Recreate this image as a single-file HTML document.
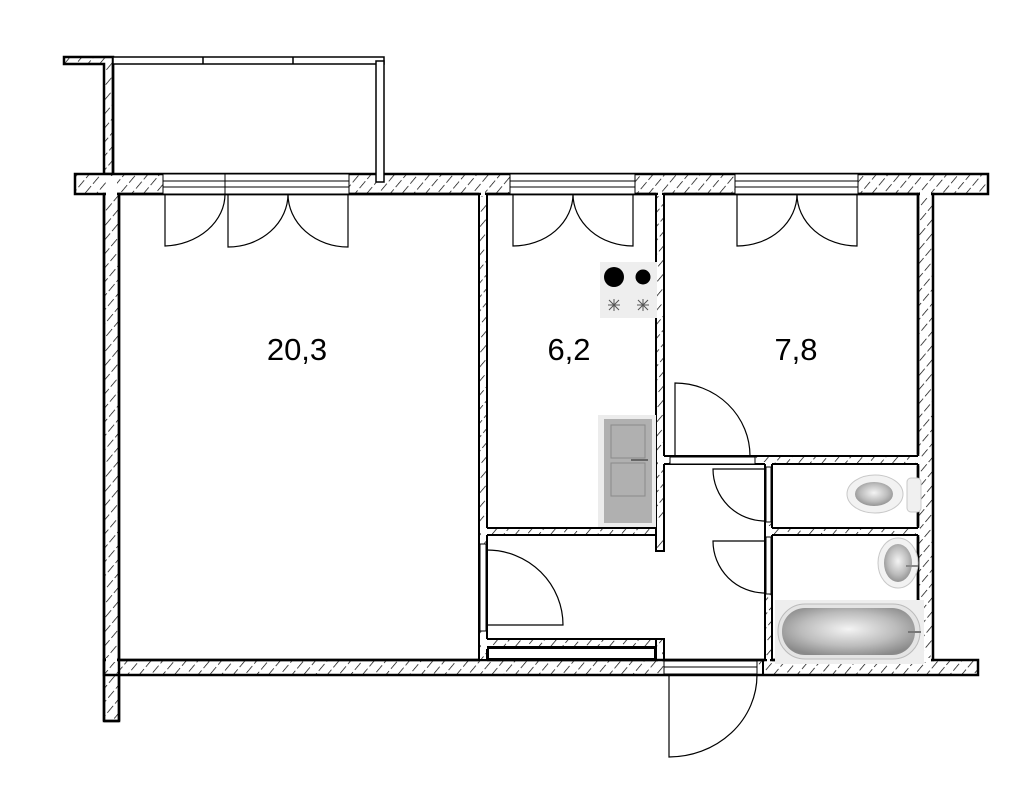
<!DOCTYPE html>
<html><head><meta charset="utf-8"><style>
html,body{margin:0;padding:0;background:#fff;}
svg{display:block;}
text{font-family:"Liberation Sans",sans-serif;}
</style></head><body>
<svg width="1025" height="794" viewBox="0 0 1025 794" xmlns="http://www.w3.org/2000/svg">
<defs>
<pattern id="h" patternUnits="userSpaceOnUse" width="9" height="12" patternTransform="rotate(40)">
<rect width="9" height="12" fill="#fff"/>
<line x1="0" y1="0" x2="0" y2="9" stroke="#000" stroke-width="1.4"/>
</pattern>
<radialGradient id="g" cx="50%" cy="45%" r="60%">
<stop offset="0" stop-color="#f4f4f4"/><stop offset="0.6" stop-color="#bcbcbc"/><stop offset="1" stop-color="#8a8a8a"/>
</radialGradient>
</defs>
<g stroke="#000" stroke-width="2.5" fill="url(#h)">
<polygon points="64,57 113,57 113,174 104,174 104,64 64,64"/>
<rect x="75" y="174" width="913" height="20"/>
<rect x="104" y="194" width="15" height="527"/>
<rect x="104" y="660" width="874" height="15"/>
<rect x="918" y="194" width="15" height="466"/>
</g>
<g stroke="#000" stroke-width="2" fill="url(#h)">
<rect x="479" y="194" width="8" height="466"/>
<rect x="487" y="528" width="177" height="7"/>
<rect x="656" y="194" width="8" height="357"/>
<rect x="664" y="456" width="254" height="8"/>
<rect x="765" y="464" width="7" height="196"/>
<rect x="772" y="528" width="146" height="7"/>
<rect x="487" y="639" width="177" height="8"/>
<rect x="656" y="639" width="8" height="21"/>
</g>
<g fill="#fff" stroke="none">
<rect x="106" y="176" width="11" height="20"/>
<rect x="920" y="192" width="11" height="4"/>
<rect x="106" y="658" width="11" height="4"/>
<rect x="920" y="658" width="11" height="4"/>
<rect x="481" y="192" width="4" height="4"/>
<rect x="658" y="192" width="4" height="4"/>
<rect x="481" y="526" width="7" height="11"/>
<rect x="655" y="526" width="11" height="11"/>
<rect x="658" y="454" width="8" height="12"/>
<rect x="916" y="454" width="4" height="12"/>
<rect x="763" y="462" width="11" height="4"/>
<rect x="763" y="526" width="11" height="11"/>
<rect x="916" y="526" width="4" height="11"/>
<rect x="481" y="637" width="7" height="12"/>
<rect x="658" y="645" width="4" height="17"/>
<rect x="767" y="658" width="3" height="4"/>
</g>
<g stroke="#000" stroke-width="2.5" fill="none">
<polyline points="119,721 119,194 479,194"/>
<line x1="487" y1="194" x2="656" y2="194"/>
<line x1="664" y1="194" x2="918" y2="194"/>
<line x1="104" y1="194" x2="104" y2="721"/>
<line x1="119" y1="660" x2="479" y2="660"/>
<line x1="487" y1="660" x2="765" y2="660"/>
<line x1="772" y1="660" x2="918" y2="660"/>
<line x1="918" y1="194" x2="918" y2="456"/>
<line x1="918" y1="464" x2="918" y2="528"/>
<line x1="918" y1="535" x2="918" y2="660"/>
<line x1="104" y1="721" x2="119" y2="721"/>
</g>
<g stroke="#000" stroke-width="2" fill="none">
<line x1="479" y1="194" x2="479" y2="660"/>
<line x1="487" y1="194" x2="487" y2="528"/>
<line x1="487" y1="535" x2="487" y2="639"/>
<line x1="487" y1="528" x2="656" y2="528"/>
<line x1="487" y1="535" x2="656" y2="535"/>
<polyline points="656,194 656,551 664,551 664,464"/>
<line x1="664" y1="194" x2="664" y2="456"/>
<line x1="664" y1="456" x2="918" y2="456"/>
<line x1="664" y1="464" x2="765" y2="464"/>
<line x1="772" y1="464" x2="918" y2="464"/>
<line x1="765" y1="464" x2="765" y2="660"/>
<line x1="772" y1="464" x2="772" y2="528"/>
<line x1="772" y1="535" x2="772" y2="660"/>
<line x1="772" y1="528" x2="918" y2="528"/>
<line x1="772" y1="535" x2="918" y2="535"/>
<line x1="487" y1="639" x2="664" y2="639"/>
<line x1="487" y1="647" x2="656" y2="647"/>
<polyline points="656,647 656,660 664,660 664,639"/>
</g>
<rect x="488" y="648" width="167" height="11" fill="#fff" stroke="#000" stroke-width="2"/>
<g stroke="#000" stroke-width="1.5" fill="#fff">
<rect x="113" y="57" width="271" height="7"/>
<line x1="203" y1="57" x2="203" y2="64"/>
<line x1="293" y1="57" x2="293" y2="64"/>
<rect x="376" y="61" width="8" height="121"/>
</g>
<line x1="113" y1="64" x2="113" y2="174" stroke="#000" stroke-width="2.5"/>
<line x1="113" y1="174" x2="376" y2="174" stroke="#000" stroke-width="2"/>
<g stroke="#000" stroke-width="1" fill="#fff">
<rect x="163" y="174" width="186" height="20"/>
<line x1="163" y1="181" x2="349" y2="181"/><line x1="163" y1="187" x2="349" y2="187"/>
<line x1="225" y1="174" x2="225" y2="194"/>
<rect x="510" y="174" width="125" height="20"/>
<line x1="510" y1="181" x2="635" y2="181"/><line x1="510" y1="187" x2="635" y2="187"/>
<rect x="735" y="174" width="123" height="20"/>
<line x1="735" y1="181" x2="858" y2="181"/><line x1="735" y1="187" x2="858" y2="187"/>
<rect x="670" y="457" width="85" height="7"/>
<rect x="766" y="467" width="5" height="55"/>
<rect x="766" y="537" width="5" height="57"/>
<rect x="480" y="544" width="6" height="87"/>
<rect x="664" y="661" width="93" height="13"/>
<line x1="664" y1="667" x2="757" y2="667"/>
</g>
<line x1="763" y1="660" x2="763" y2="675" stroke="#000" stroke-width="2"/>
<g stroke="#000" stroke-width="1.2" fill="none">
<path d="M165,194 V246 A63,52 0 0 0 225,194"/>
<path d="M228,194 V247 A60,53 0 0 0 288,194"/>
<path d="M288,194 A60,53 0 0 0 348,247 V194"/>
<path d="M513,194 V246 A60,52 0 0 0 573,194"/>
<path d="M573,194 A60,52 0 0 0 633,246 V194"/>
<path d="M737,194 V246 A60,52 0 0 0 797,194"/>
<path d="M797,194 A60,52 0 0 0 857,246 V194"/>
<path d="M675,456 V383 A75,73 0 0 1 750,456"/>
<path d="M765,521 A52,52 0 0 1 713,469 H765"/>
<path d="M765,593 A52,52 0 0 1 713,541 H765"/>
<path d="M487,550 A76,75 0 0 1 563,625 H487"/>
<path d="M669,675 V757 A88,82 0 0 0 757,675"/>
</g>
<rect x="600" y="262" width="57" height="56" fill="#eeeeee"/>
<circle cx="614" cy="277" r="10" fill="#000"/>
<circle cx="643" cy="277" r="7.5" fill="#000"/>
<g stroke="#555" stroke-width="1">
<path d="M608,305 h12 M614,299 v12 M609,300 l10,10 M619,300 l-10,10"/>
<path d="M637,305 h12 M643,299 v12 M638,300 l10,10 M648,300 l-10,10"/>
</g>
<rect x="598" y="415" width="58" height="112" fill="#ececec"/>
<rect x="604" y="419" width="48" height="104" fill="#b0b0b0"/>
<rect x="611" y="425" width="34" height="33" fill="none" stroke="#8a8a8a"/>
<rect x="611" y="463" width="34" height="33" fill="none" stroke="#8a8a8a"/>
<line x1="631" y1="460" x2="648" y2="460" stroke="#666" stroke-width="2"/>
<ellipse cx="875" cy="494" rx="28" ry="19" fill="#f2f2f2" stroke="#c8c8c8"/>
<ellipse cx="874" cy="494" rx="19" ry="12" fill="url(#g)"/>
<rect x="907" y="478" width="14" height="34" rx="4" fill="#f0f0f0" stroke="#c8c8c8"/>
<ellipse cx="898" cy="563" rx="20" ry="25" fill="#f2f2f2" stroke="#c8c8c8"/>
<ellipse cx="898" cy="563" rx="14" ry="19" fill="url(#g)"/>
<line x1="906" y1="566" x2="918" y2="566" stroke="#888" stroke-width="2"/>
<rect x="775" y="600" width="149" height="64" fill="#eeeeee"/>
<rect x="778" y="604" width="142" height="55" rx="27" fill="#e4e4e4" stroke="#bbb"/>
<rect x="782" y="608" width="133" height="47" rx="23" fill="url(#g)"/>
<line x1="908" y1="632" x2="921" y2="632" stroke="#777" stroke-width="2"/>
<g font-size="31" fill="#000" text-anchor="middle">
<text x="297" y="360">20,3</text>
<text x="569" y="360">6,2</text>
<text x="796" y="360">7,8</text>
</g>
</svg>
</body></html>
